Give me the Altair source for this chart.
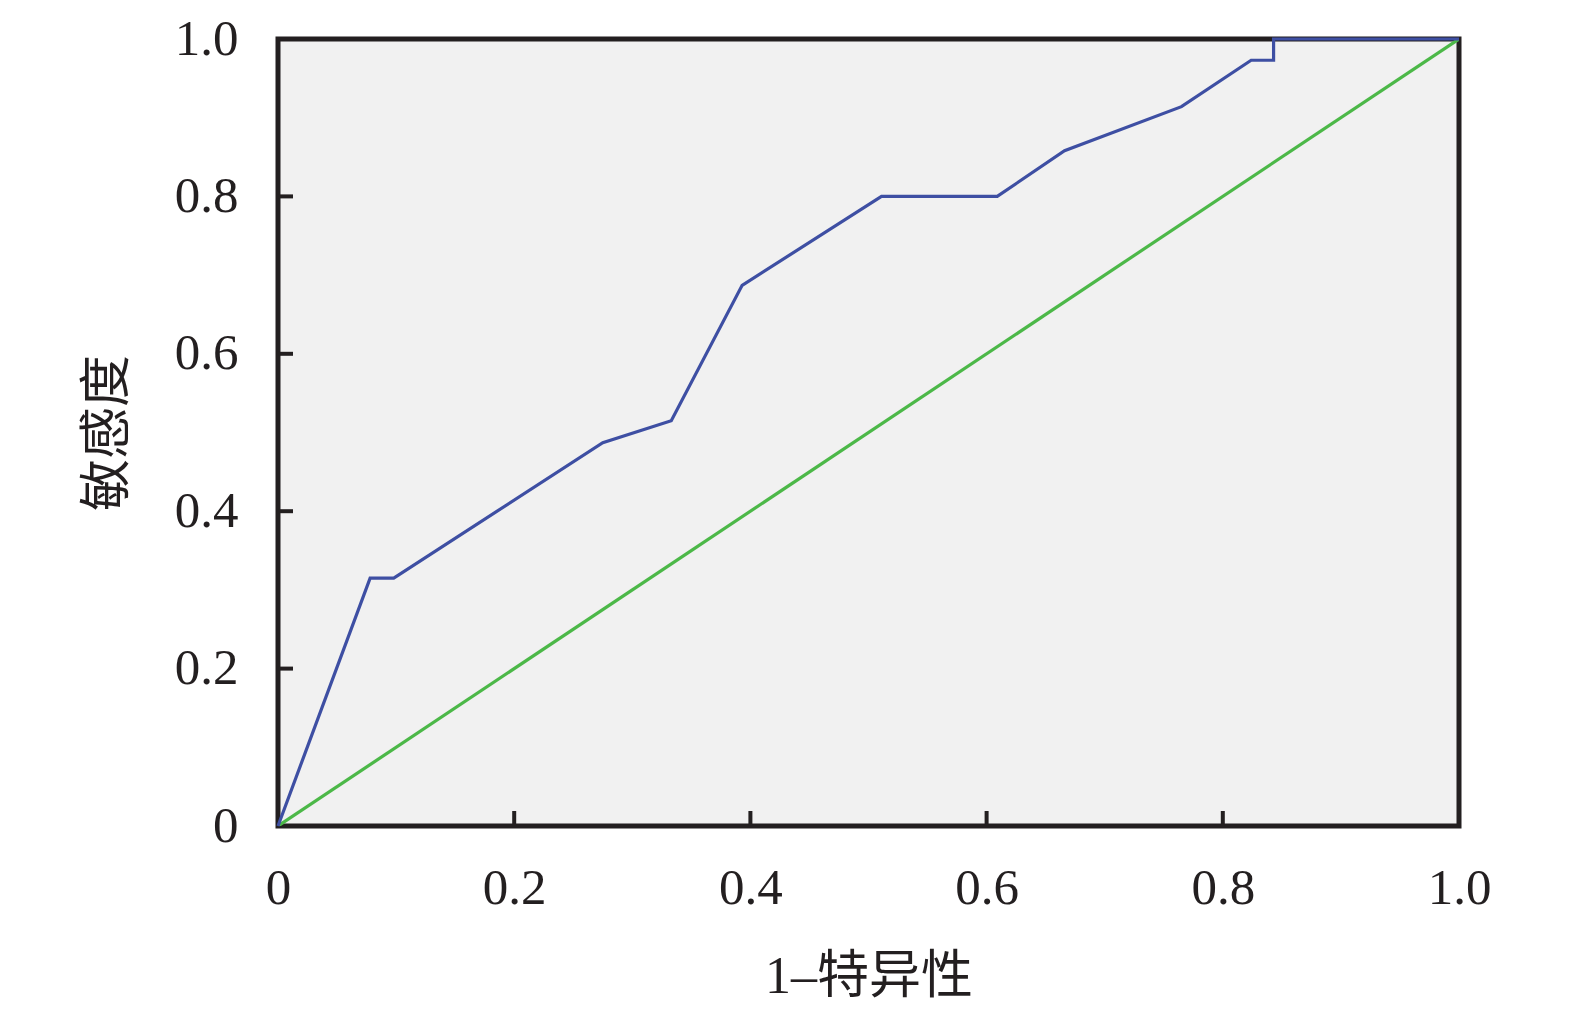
import altair as alt
import pandas as pd

# ROC curve points (1-specificity, sensitivity)
fpr = [0.0, 0.078, 0.098, 0.275, 0.333, 0.393, 0.511, 0.609, 0.666, 0.765, 0.824, 0.843, 0.843, 1.0]
tpr = [0.0, 0.315, 0.315, 0.487, 0.515, 0.687, 0.800, 0.800, 0.858, 0.914, 0.973, 0.973, 1.0, 1.0]

diag_x = [0.0, 1.0]
diag_y = [0.0, 1.0]

tick_values = [0.2, 0.4, 0.6, 0.8]
axis_values = [0, 0.2, 0.4, 0.6, 0.8, 1.0]

x_title = "1–特异性"
y_title = "敏感度"

W, H = 1181, 787
TICK_LEN = 15
FRAME = "#231f20"
LABEL_FONT = "Liberation Serif"
TITLE_FONT = "Liberation Serif, Noto Sans CJK SC"

roc = pd.DataFrame({"fpr": fpr, "tpr": tpr, "order": list(range(len(fpr)))})
diag = pd.DataFrame({"fpr": diag_x, "tpr": diag_y})
ticks = pd.DataFrame({"v": tick_values})

label_expr = "datum.value == 0 ? '0' : format(datum.value, '.1f')"

xscale = alt.Scale(domain=[0, 1], nice=False, zero=False)
yscale = alt.Scale(domain=[0, 1], nice=False, zero=False)

xaxis = alt.Axis(
    values=axis_values, labelExpr=label_expr, title=x_title,
    ticks=False, tickSize=0, domain=False, grid=False,
    labelFont=LABEL_FONT, labelFontSize=51, labelColor=FRAME, labelPadding=37,
    labelFlush=False, labelOverlap=False,
    titleFont=TITLE_FONT, titleFontSize=52, titleFontWeight="normal", titleColor=FRAME,
    titlePadding=38,
)
yaxis = alt.Axis(
    values=axis_values, labelExpr=label_expr, title=y_title,
    ticks=False, tickSize=0, domain=False, grid=False,
    labelFont=LABEL_FONT, labelFontSize=51, labelColor=FRAME, labelPadding=40,
    labelFlush=False, labelOverlap=False,
    titleFont=TITLE_FONT, titleFontSize=52, titleFontWeight="normal", titleColor=FRAME,
    titlePadding=40,
)

base_diag = alt.Chart(diag).mark_line(color="#4cb848", strokeWidth=3.2, clip=True).encode(
    x=alt.X("fpr:Q", scale=xscale, axis=xaxis),
    y=alt.Y("tpr:Q", scale=yscale, axis=yaxis),
)

roc_line = alt.Chart(roc).mark_line(color="#3e4fa3", strokeWidth=3.2).encode(
    x=alt.X("fpr:Q", scale=xscale),
    y=alt.Y("tpr:Q", scale=yscale),
    order="order:Q",
)

xticks = alt.Chart(ticks).mark_rule(color=FRAME, strokeWidth=4).encode(
    x=alt.X("v:Q", scale=xscale),
    y=alt.value(H),
    y2=alt.value(H - TICK_LEN),
)
yticks = alt.Chart(ticks).mark_rule(color=FRAME, strokeWidth=4).encode(
    y=alt.Y("v:Q", scale=yscale),
    x=alt.value(0),
    x2=alt.value(TICK_LEN),
)

chart = alt.layer(base_diag, xticks, yticks, roc_line).properties(
    width=W,
    height=H,
    autosize=alt.AutoSizeParams(type="none"),
    padding={"left": 270, "top": 31, "right": 100, "bottom": 180},
    background="white",
).configure_view(
    fill="#f1f1f1",
    stroke=FRAME,
    strokeWidth=5,
)

chart.save("out.html", embed_options={"renderer": "svg", "actions": False})
